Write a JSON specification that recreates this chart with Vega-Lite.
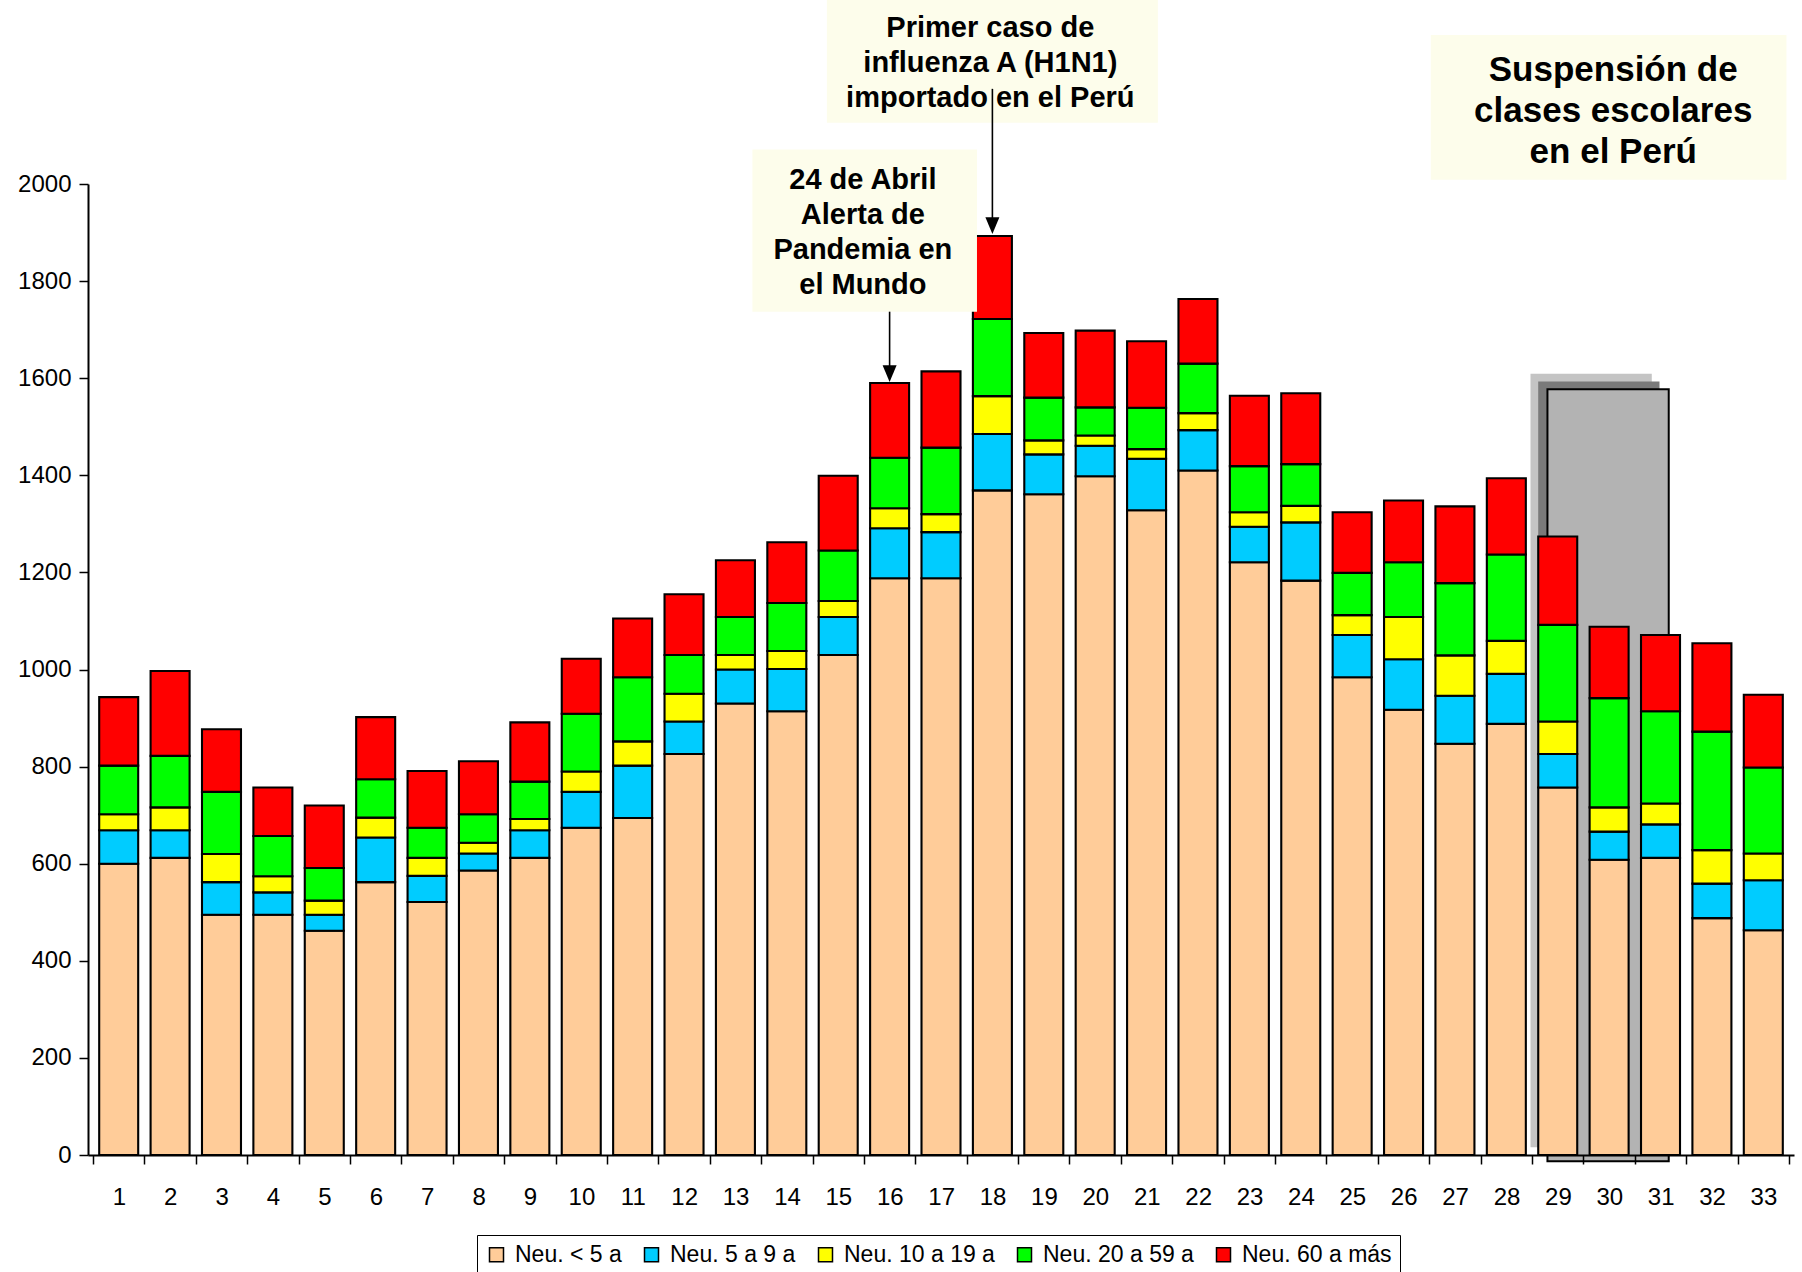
{
  "$schema": "https://vega.github.io/schema/vega-lite/v6.json",
  "width": 1706,
  "height": 971,
  "autosize": {"type": "none"},
  "padding": {"left": 88, "top": 184, "right": 8, "bottom": 117},
  "background": "white",
  "config": {"view": {"stroke": null}, "font": "Liberation Sans"},
  "layer": [
    {
      "data": {"values": [{"x1": 28.47, "x2": 30.83, "y1": 16, "y2": 1609}]},
      "mark": {"type": "rect", "fill": "#c4c4c4"},
      "encoding": {
        "x": {"field": "x1", "type": "quantitative", "title": null, "scale": {"domain": [0.5, 33.5], "nice": false, "zero": false}},
        "x2": {"field": "x2"},
        "y": {"field": "y1", "type": "quantitative", "title": null, "scale": {"domain": [0, 2000], "nice": false}},
        "y2": {"field": "y2"}
      }
    },
    {
      "data": {"values": [{"x1": 28.62, "x2": 30.98, "y1": 8, "y2": 1593}]},
      "mark": {"type": "rect", "fill": "#7a7a7a"},
      "encoding": {
        "x": {"field": "x1", "type": "quantitative", "title": null, "scale": {"domain": [0.5, 33.5], "nice": false, "zero": false}},
        "x2": {"field": "x2"},
        "y": {"field": "y1", "type": "quantitative", "title": null, "scale": {"domain": [0, 2000], "nice": false}},
        "y2": {"field": "y2"}
      }
    },
    {
      "data": {"values": [{"x1": 28.8, "x2": 31.16, "y1": -13, "y2": 1577}]},
      "mark": {"type": "rect", "fill": "#b3b3b3", "stroke": "black", "strokeWidth": 2},
      "encoding": {
        "x": {"field": "x1", "type": "quantitative", "title": null, "scale": {"domain": [0.5, 33.5], "nice": false, "zero": false}},
        "x2": {"field": "x2"},
        "y": {"field": "y1", "type": "quantitative", "title": null, "scale": {"domain": [0, 2000], "nice": false}},
        "y2": {"field": "y2"}
      }
    },
    {
      "data": {"values": [
        {"s": 1, "a": 600, "b": 69, "c": 33, "d": 100, "e": 141},
        {"s": 2, "a": 612, "b": 57, "c": 47, "d": 106, "e": 175},
        {"s": 3, "a": 495, "b": 67, "c": 58, "d": 128, "e": 129},
        {"s": 4, "a": 495, "b": 46, "c": 33, "d": 83, "e": 100},
        {"s": 5, "a": 462, "b": 33, "c": 29, "d": 67, "e": 129},
        {"s": 6, "a": 562, "b": 92, "c": 41, "d": 79, "e": 128},
        {"s": 7, "a": 521, "b": 54, "c": 37, "d": 62, "e": 117},
        {"s": 8, "a": 586, "b": 35, "c": 22, "d": 59, "e": 109},
        {"s": 9, "a": 612, "b": 57, "c": 23, "d": 77, "e": 122},
        {"s": 10, "a": 674, "b": 74, "c": 42, "d": 119, "e": 113},
        {"s": 11, "a": 694, "b": 108, "c": 50, "d": 132, "e": 121},
        {"s": 12, "a": 826, "b": 67, "c": 57, "d": 80, "e": 125},
        {"s": 13, "a": 930, "b": 70, "c": 30, "d": 78, "e": 117},
        {"s": 14, "a": 914, "b": 87, "c": 37, "d": 99, "e": 125},
        {"s": 15, "a": 1030, "b": 78, "c": 33, "d": 104, "e": 154},
        {"s": 16, "a": 1188, "b": 103, "c": 41, "d": 104, "e": 154},
        {"s": 17, "a": 1188, "b": 95, "c": 37, "d": 137, "e": 157},
        {"s": 18, "a": 1369, "b": 116, "c": 78, "d": 159, "e": 171},
        {"s": 19, "a": 1361, "b": 82, "c": 29, "d": 88, "e": 133},
        {"s": 20, "a": 1398, "b": 63, "c": 21, "d": 58, "e": 158},
        {"s": 21, "a": 1328, "b": 106, "c": 20, "d": 85, "e": 137},
        {"s": 22, "a": 1410, "b": 83, "c": 35, "d": 102, "e": 133},
        {"s": 23, "a": 1221, "b": 73, "c": 30, "d": 95, "e": 145},
        {"s": 24, "a": 1183, "b": 120, "c": 34, "d": 86, "e": 146},
        {"s": 25, "a": 984, "b": 87, "c": 41, "d": 87, "e": 125},
        {"s": 26, "a": 917, "b": 104, "c": 87, "d": 113, "e": 127},
        {"s": 27, "a": 847, "b": 99, "c": 83, "d": 149, "e": 158},
        {"s": 28, "a": 888, "b": 103, "c": 68, "d": 178, "e": 157},
        {"s": 29, "a": 757, "b": 69, "c": 67, "d": 199, "e": 182},
        {"s": 30, "a": 608, "b": 58, "c": 50, "d": 225, "e": 147},
        {"s": 31, "a": 612, "b": 69, "c": 43, "d": 190, "e": 157},
        {"s": 32, "a": 488, "b": 71, "c": 69, "d": 244, "e": 182},
        {"s": 33, "a": 463, "b": 103, "c": 55, "d": 177, "e": 150}
      ]},
      "transform": [{"fold": ["a", "b", "c", "d", "e"], "as": ["grupo", "casos"]}],
      "mark": {"type": "bar", "width": 39, "stroke": "black", "strokeWidth": 2.1},
      "encoding": {
        "x": {
          "field": "s", "type": "quantitative", "title": null,
          "scale": {"domain": [0.5, 33.5], "nice": false, "zero": false},
          "axis": {
            "values": [0.5, 1.5, 2.5, 3.5, 4.5, 5.5, 6.5, 7.5, 8.5, 9.5, 10.5, 11.5, 12.5, 13.5, 14.5, 15.5, 16.5, 17.5, 18.5, 19.5, 20.5, 21.5, 22.5, 23.5, 24.5, 25.5, 26.5, 27.5, 28.5, 29.5, 30.5, 31.5, 32.5, 33.5],
            "labelExpr": "datum.value < 33 ? datum.value + 0.5 : ''",
            "labelOffset": 25.85,
            "grid": false, "zindex": 1,
            "domainColor": "black", "domainWidth": 2,
            "tickColor": "black", "tickWidth": 1.5, "tickSize": 9,
            "labelFontSize": 24, "labelColor": "black", "labelPadding": 21,
            "labelFlush": false, "labelOverlap": false, "labelBound": false
          }
        },
        "y": {
          "field": "casos", "type": "quantitative", "title": null, "stack": "zero",
          "scale": {"domain": [0, 2000], "nice": false},
          "axis": {
            "values": [0, 200, 400, 600, 800, 1000, 1200, 1400, 1600, 1800, 2000],
            "format": "d",
            "grid": false, "zindex": 1,
            "domainColor": "black", "domainWidth": 2,
            "tickColor": "black", "tickWidth": 1.5, "tickSize": 9,
            "labelFontSize": 24, "labelColor": "black", "labelPadding": 8
          }
        },
        "order": {"field": "grupo", "type": "nominal", "sort": "ascending"},
        "color": {
          "field": "grupo", "type": "nominal",
          "scale": {"domain": ["a", "b", "c", "d", "e"], "range": ["#FFCC99", "#00CCFF", "#FFFF00", "#00FF00", "#FF0000"]},
          "legend": {
            "title": null, "orient": "none", "legendX": 389, "legendY": 1051,
            "direction": "horizontal", "columns": 5,
            "fillColor": "white", "strokeColor": "black", "padding": 8,
            "symbolType": "square", "symbolSize": 196, "symbolStrokeColor": "black", "symbolStrokeWidth": 1.5, "symbolOpacity": 1,
            "labelFontSize": 23, "labelColor": "black", "labelOffset": 7, "columnPadding": 18, "labelLimit": 300,
            "labelExpr": "{'a': 'Neu. < 5 a', 'b': 'Neu. 5 a 9 a', 'c': 'Neu. 10 a 19 a', 'd': 'Neu. 20 a 59 a', 'e': 'Neu. 60 a más'}[datum.label]"
          }
        }
      }
    },
    {
      "data": {"values": [
        {"x1": 14.78, "x2": 21.22, "y1": 2126, "y2": 2385},
        {"x1": 13.33, "x2": 17.7, "y1": 1737, "y2": 2071},
        {"x1": 26.53, "x2": 33.45, "y1": 2009, "y2": 2307}
      ]},
      "mark": {"type": "rect", "fill": "#FDFDEB"},
      "encoding": {
        "x": {"field": "x1", "type": "quantitative", "title": null, "scale": {"domain": [0.5, 33.5], "nice": false, "zero": false}},
        "x2": {"field": "x2"},
        "y": {"field": "y1", "type": "quantitative", "title": null, "scale": {"domain": [0, 2000], "nice": false}},
        "y2": {"field": "y2"}
      }
    },
    {
      "data": {"values": [
        {"t": "Primer caso de\ninfluenza A (H1N1)\nimportado en el Perú", "x": 17.96, "y": 2321},
        {"t": "24 de Abril\nAlerta de\nPandemia en\nel Mundo", "x": 15.48, "y": 2009}
      ]},
      "mark": {"type": "text", "fontSize": 29, "fontWeight": "bold", "lineHeight": 35, "lineBreak": "\n", "align": "center", "baseline": "middle", "color": "black"},
      "encoding": {
        "x": {"field": "x", "type": "quantitative", "title": null, "scale": {"domain": [0.5, 33.5], "nice": false, "zero": false}},
        "y": {"field": "y", "type": "quantitative", "title": null, "scale": {"domain": [0, 2000], "nice": false}},
        "text": {"field": "t"}
      }
    },
    {
      "data": {"values": [
        {"t": "Suspensión de\nclases escolares\nen el Perú", "x": 30.08, "y": 2235}
      ]},
      "mark": {"type": "text", "fontSize": 35, "fontWeight": "bold", "lineHeight": 41, "lineBreak": "\n", "align": "center", "baseline": "middle", "color": "black"},
      "encoding": {
        "x": {"field": "x", "type": "quantitative", "title": null, "scale": {"domain": [0.5, 33.5], "nice": false, "zero": false}},
        "y": {"field": "y", "type": "quantitative", "title": null, "scale": {"domain": [0, 2000], "nice": false}},
        "text": {"field": "t"}
      }
    },
    {
      "data": {"values": [
        {"x": 16, "y1": 1737, "y2": 1600},
        {"x": 18, "y1": 2196, "y2": 1905}
      ]},
      "mark": {"type": "rule", "color": "black", "strokeWidth": 1.6},
      "encoding": {
        "x": {"field": "x", "type": "quantitative", "title": null, "scale": {"domain": [0.5, 33.5], "nice": false, "zero": false}},
        "y": {"field": "y1", "type": "quantitative", "title": null, "scale": {"domain": [0, 2000], "nice": false}},
        "y2": {"field": "y2"}
      }
    },
    {
      "data": {"values": [
        {"x": 16, "y": 1592},
        {"x": 18, "y": 1897}
      ]},
      "mark": {"type": "point", "shape": "M -0.875 -2.1 L 0.875 -2.1 L 0 0 Z", "size": 256, "filled": true, "color": "black", "opacity": 1},
      "encoding": {
        "x": {"field": "x", "type": "quantitative", "title": null, "scale": {"domain": [0.5, 33.5], "nice": false, "zero": false}},
        "y": {"field": "y", "type": "quantitative", "title": null, "scale": {"domain": [0, 2000], "nice": false}}
      }
    }
  ]
}
